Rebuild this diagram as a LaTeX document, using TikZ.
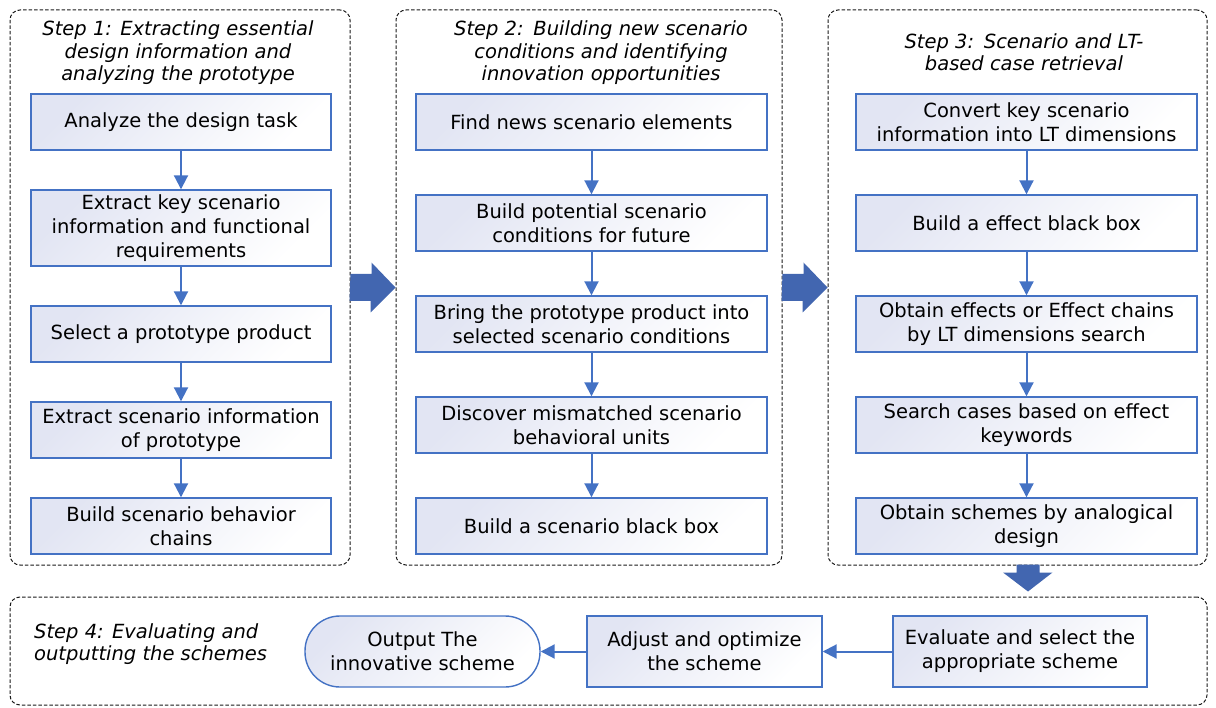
\documentclass[tikz,border=0pt]{standalone}
\usepackage{fontspec}
\setmainfont{DejaVu Sans}
\usetikzlibrary{positioning,calc,arrows.meta}
\definecolor{boxblue}{HTML}{4472C4}
\definecolor{boxtint}{HTML}{E2E5F3}
\definecolor{fatblue}{HTML}{4266B0}
\tikzset{
     stepframe/.style = {draw=black!90, line width=1pt, dash pattern=on 3.5pt off 2pt, rounded corners=10pt},
     taskbox/.style   = {draw=boxblue, line width=1.4pt, top color=boxtint, bottom color=white, shading angle=45,
                         align=center, inner sep=2pt, minimum height=56pt, font=\fontsize{19.5}{24}\selectfont},
     endbox/.style    = {taskbox, rounded corners=35pt},
     steptitle/.style = {align=center, inner sep=0pt, font=\fontsize{19.5}{22.5}\selectfont\itshape},
     flow/.style      = {draw=boxblue, line width=2pt, -{Triangle[width=14pt,length=14pt]}},
     fatarrow/.style  = {fill=fatblue},
    }

\begin{document}
\begin{tikzpicture}[x=1pt,y=-1pt,node distance=101pt,on grid]
      \useasboundingbox (0,0) rectangle (1216,708);

      % dashed step frames
      \node [stepframe, minimum width=340pt, minimum height=555pt] (f1) at (180,287.5) {};
      \node [stepframe, minimum width=386pt, minimum height=555pt] (f2) at (589,287.5) {};
      \node [stepframe, minimum width=379pt, minimum height=555pt] (f3) at (1017.5,287.5) {};
      \node [stepframe, minimum width=1197pt, minimum height=108pt] (f4) at (608.5,651) {};

      % step titles
      \node [steptitle] (t1) at (178,53) {Step 1: Extracting essential\\design information and\\analyzing the prototype};
      \node [steptitle] (t2) at (601,53) {Step 2:\enspace Building new scenario\\conditions and identifying\\innovation opportunities};
      \node [steptitle] (t3) at (1024,52) {Step 3:\enspace Scenario and LT-\\based case retrieval};
      \node [steptitle, align=left, anchor=west] (t4) at (34,644) {Step 4: Evaluating and\\outputting the schemes};

      % step 1
      \node [taskbox, minimum width=300pt] (a1) at (181,122) {Analyze the design task};
      \node [taskbox, minimum width=300pt, minimum height=76pt] (a2) [below=106pt of a1] {Extract key scenario\\information and functional\\requirements};
      \node [taskbox, minimum width=300pt] (a3) [below=106pt of a2] {Select a prototype product};
      \node [taskbox, minimum width=300pt] (a4) [below=96pt of a3]  {Extract scenario information\\of prototype};
      \node [taskbox, minimum width=300pt] (a5) [below=96pt of a4]  {Build scenario behavior\\chains};

      % step 2
      \node [taskbox, minimum width=351pt] (b1) at (591.5,122) {Find news scenario elements};
      \node [taskbox, minimum width=351pt] (b2) [below of=b1] {Build potential scenario\\conditions for future};
      \node [taskbox, minimum width=351pt] (b3) [below of=b2] {Bring the prototype product into\\selected scenario conditions};
      \node [taskbox, minimum width=351pt] (b4) [below of=b3] {Discover mismatched scenario\\behavioral units};
      \node [taskbox, minimum width=351pt] (b5) [below of=b4] {Build a scenario black box};

      % step 3
      \node [taskbox, minimum width=341pt] (c1) at (1026.5,122) {Convert key scenario\\information into LT dimensions};
      \node [taskbox, minimum width=341pt] (c2) [below of=c1] {Build a effect black box};
      \node [taskbox, minimum width=341pt] (c3) [below of=c2] {Obtain effects or Effect chains\\by LT dimensions search};
      \node [taskbox, minimum width=341pt] (c4) [below of=c3] {Search cases based on effect\\keywords};
      \node [taskbox, minimum width=341pt] (c5) [below of=c4] {Obtain schemes by analogical\\design};

      % step 4
      \node [taskbox, minimum width=254pt, minimum height=71pt] (e1) at (1020,651.5) {Evaluate and select the\\appropriate scheme};
      \node [taskbox, minimum width=235pt, minimum height=71pt] (e2) [left=315.5pt of e1] {Adjust and optimize\\the scheme};
      \node [endbox, minimum width=235pt, minimum height=71pt] (e3) [left=282pt of e2] {Output The\\innovative scheme};

      \draw [flow] (a1) -- (a2);  \draw [flow] (a2) -- (a3);  \draw [flow] (a3) -- (a4);  \draw [flow] (a4) -- (a5);
      \draw [flow] (b1) -- (b2);  \draw [flow] (b2) -- (b3);  \draw [flow] (b3) -- (b4);  \draw [flow] (b4) -- (b5);
      \draw [flow] (c1) -- (c2);  \draw [flow] (c2) -- (c3);  \draw [flow] (c3) -- (c4);  \draw [flow] (c4) -- (c5);
      \draw [flow] (e1) -- (e2);  \draw [flow] (e2) -- (e3);

      % block arrows between the steps
      \fill [fatarrow] ($(f1.east)+(0,-13.5)$) -- ++(21,0) -- ++(0,-11.5) -- (f2.west)
            -- ++(-25,25) -- ++(0,-11.5) -- ++(-21,0) -- cycle;
      \fill [fatarrow] ($(f2.east)+(0,-13.5)$) -- ++(21,0) -- ++(0,-11.5) -- (f3.west)
            -- ++(-25,25) -- ++(0,-11.5) -- ++(-21,0) -- cycle;
      \coordinate (dn) at ($(f3.south)+(10.5,0)$);
      \fill [fatarrow] ($(dn)+(-11.5,-1)$) -- ++(23,0) -- ++(0,8) -- ++(13,0) -- ($(dn)+(0,26)$)
            -- ++(-25,-19) -- ++(13.5,0) -- cycle;
\end{tikzpicture}
\end{document}
